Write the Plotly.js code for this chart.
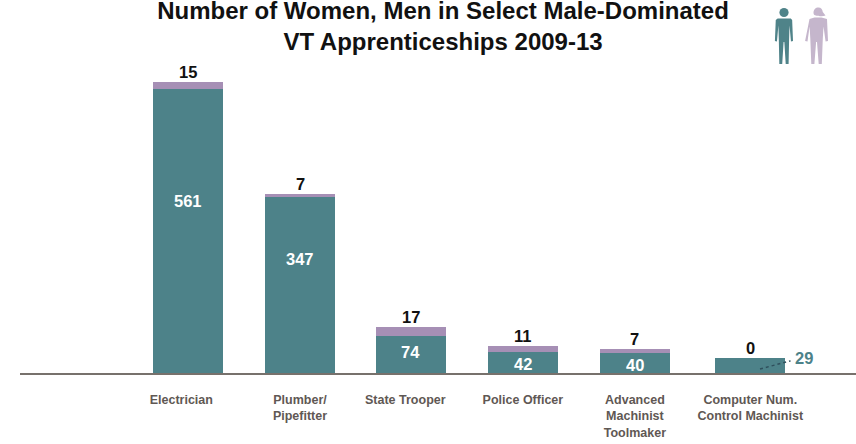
<!DOCTYPE html>
<html>
<head>
<meta charset="utf-8">
<script src="https://cdn.plot.ly/plotly-3.0.1.min.js"></script>
<style>html,body{margin:0;padding:0;background:#fff;}#chart{width:856px;height:444px;}</style>
</head>
<body>
<div id="chart"></div>
<script>
// Apprenticeship counts by trade and gender
const categories = ["Electrician", "Plumber/<br>Pipefitter", "State Trooper", "Police Officer", "Advanced<br>Machinist<br>Toolmaker", "Computer Num.<br>Control Machinist"];
const men = [561, 347, 74, 42, 40, 29];
const women = [15, 7, 17, 11, 7, 0];
const barSlots = [0, 1, 1.99, 2.99, 3.99, 5.02];
const labelSlots = [-0.06, 1, 1.94, 2.99, 3.99, 5.02];
const menLabelHeights = [340, 226, 41, 18, 16];

const TEAL = "#4d8289", PURPLE = "#a68fb5";

// Man and woman pictograms, in their own pixel box
const figures = `<svg xmlns="http://www.w3.org/2000/svg" width="70" height="66" viewBox="0 0 70 66">
<g fill="#4f8389"><circle cx="14" cy="12.500" r="4.600"/><path transform="translate(2.100 0) scale(.85 1)" d="M6.500 18.500h15.500l1.600 1.500 1 21-2.400 .4-1.700-16-.5 14-.6 24.600h-3.400l-1.600-22h-.9l-1.600 22h-3.400l-.6-24.600-.5-14-1.700 16-2.400-.4 1-21z"/></g>
<g fill="#c5b6cc" transform="translate(-2.500 0)"><path d="M46 13c0-3.500 2-5.500 5-5.500 2.500 0 4 2 4.300 4.500l2.700 3.500c-2 .8-4.700 1.300-7 .3-2.500 0-5-.3-5-2.800z"/><path d="M42 19l5-1.500h7l5.500 1.500 1 22-2.400 .4-2.100-15-.7 12-1 25.600h-3.100l-1.700-22h-.9l-1.700 22h-3.100l-1-25.600-.7-12-2.100 15-2.400-.4z"/></g>
</svg>`;

const menTrace = {
  type: "bar", name: "Men", x: barSlots, y: men, width: 0.625,
  marker: { color: TEAL, line: { width: 0 } }, hoverinfo: "y"
};
const womenTrace = {
  type: "bar", name: "Women", x: barSlots, y: women, width: 0.625,
  marker: { color: PURPLE, line: { width: 0 } }, hoverinfo: "y"
};

const annotations = [];
const numFont = { family: "Liberation Sans, Arial, sans-serif", size: 16.5 };
// Women's counts sit above each stack
women.forEach((w, i) => annotations.push({
  x: barSlots[i], y: men[i] + w, xref: "x", yref: "y", yanchor: "bottom", yshift: -1,
  text: "<b>" + w + "</b>", showarrow: false,
  font: Object.assign({}, numFont, { color: "#111111" })
}));
// Men's counts inside the bars
menLabelHeights.forEach((h, i) => annotations.push({
  x: barSlots[i], y: h, xref: "x", yref: "y",
  text: "<b>" + men[i] + "</b>", showarrow: false,
  font: Object.assign({}, numFont, { color: "#ffffff" })
}));
// The last bar is too short for its label, so it sits outside with a leader
annotations.push({
  x: 5.40, y: men[5], xref: "x", yref: "y", xanchor: "left",
  text: "<b>" + men[5] + "</b>", showarrow: false,
  font: Object.assign({}, numFont, { color: TEAL })
});

const layout = {
  width: 856, height: 444,
  margin: { l: 20, r: 0, t: 60, b: 71 },
  paper_bgcolor: "#ffffff", plot_bgcolor: "#ffffff",
  barmode: "stack", showlegend: false,
  title: {
    text: "<b>Number of Women, Men in Select Male-Dominated<br>VT Apprenticeships 2009-13</b>",
    x: 423 / 836, xanchor: "center", xref: "paper",
    y: 0.958, yref: "container", yanchor: "top",
    pad: { t: 0 },
    font: { family: "Liberation Sans, Arial, sans-serif", size: 24, color: "#111111" }
  },
  xaxis: {
    range: [-1.5, 5.964], showgrid: false, zeroline: false,
    showline: true, linecolor: "#77716c", linewidth: 2,
    tickmode: "array", tickvals: labelSlots, ticktext: categories,
    ticks: "", ticklabelstandoff: 14, tickangle: 0,
    tickfont: { family: "Liberation Sans, sans-serif", size: 12.5, color: "#5f5854", weight: 700 }
  },
  yaxis: { range: [0, 618.6], visible: false, showgrid: false, zeroline: false },
  annotations: annotations,
  shapes: [{
    type: "line", xref: "x", yref: "y", x0: 5.107, y0: 8, x1: 5.38, y1: 24,
    line: { color: "#2f4f5c", width: 1.5, dash: "dot" }
  }],
  images: [{
    source: "data:image/svg+xml," + encodeURIComponent(figures),
    xref: "paper", yref: "paper", x: (770 - 20) / 836, y: 373 / 313,
    sizex: 70 / 836, sizey: 66 / 313, xanchor: "left", yanchor: "top",
    sizing: "stretch", layer: "above"
  }]
};

Plotly.newPlot("chart", [menTrace, womenTrace], layout, { displayModeBar: false, staticPlot: true });
</script>
</body>
</html>
